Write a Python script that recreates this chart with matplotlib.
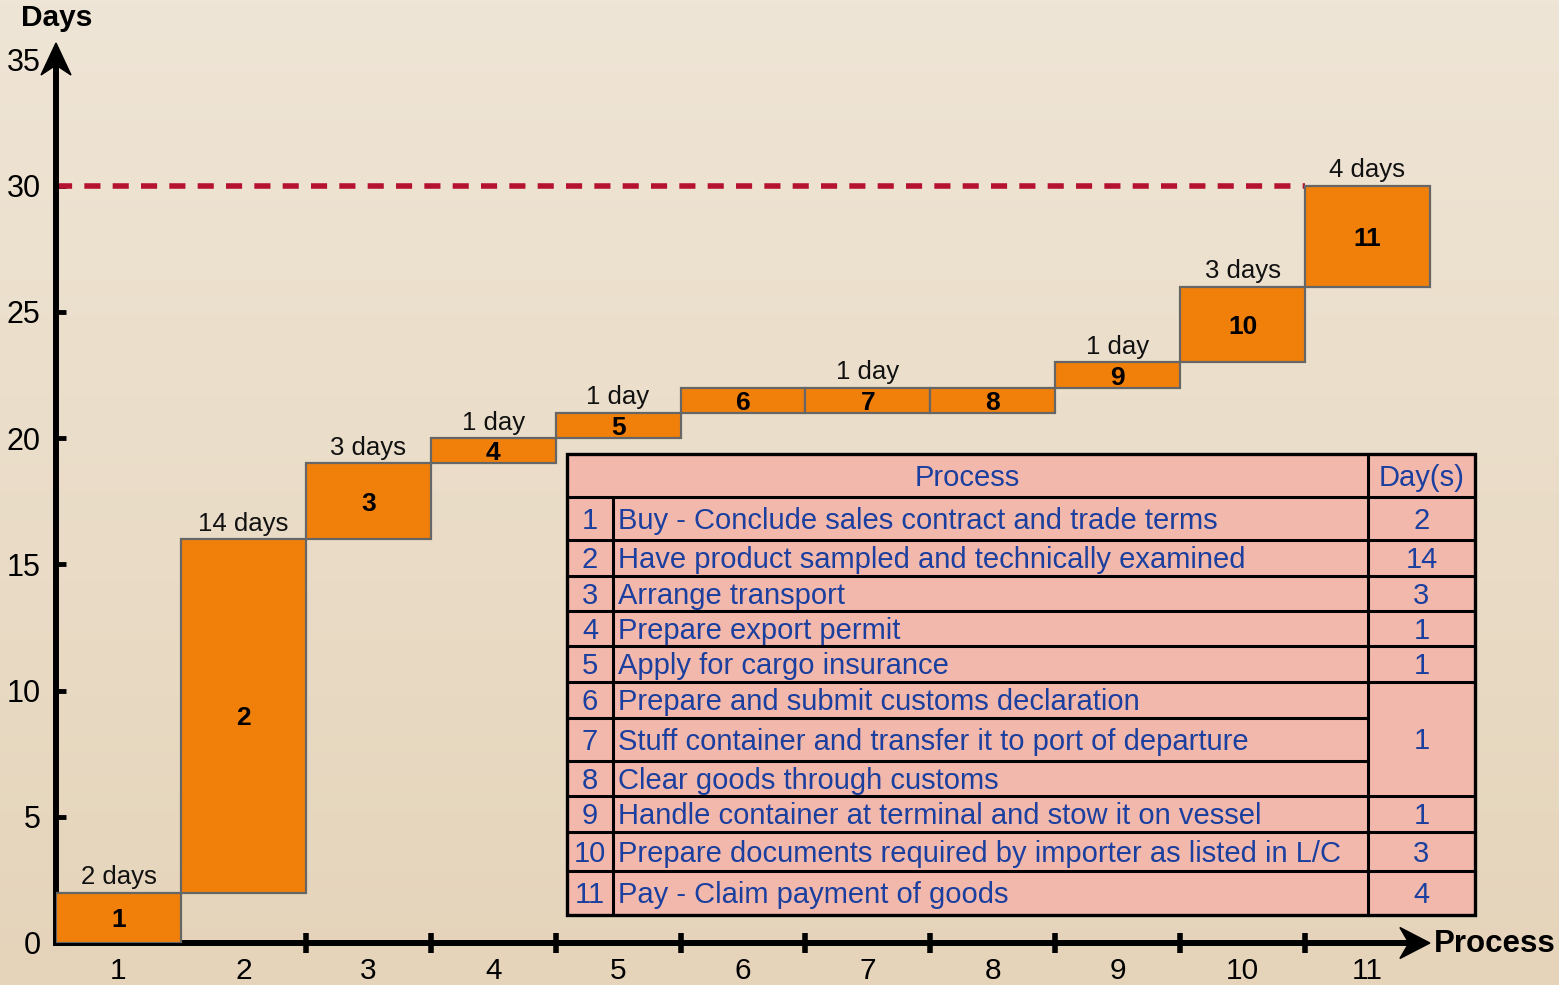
import numpy as np
import matplotlib.pyplot as plt
from matplotlib.colors import LinearSegmentedColormap
from matplotlib.patches import Polygon, Rectangle

plt.rcParams['font.family'] = ['Liberation Sans', 'DejaVu Sans']

# data: steps 6, 7 and 8 run side by side inside one day
steps = list(range(1, 12))
groups = [[1], [2], [3], [4], [5], [6, 7, 8], [9], [10], [11]]
group_days = [2, 14, 3, 1, 1, 1, 1, 3, 4]
target_days = 30
y_ticks = [0, 5, 10, 15, 20, 25, 30, 35]
process_names = [
    "Buy - Conclude sales contract and trade terms",
    "Have product sampled and technically examined",
    "Arrange transport",
    "Prepare export permit",
    "Apply for cargo insurance",
    "Prepare and submit customs declaration",
    "Stuff container and transfer it to port of departure",
    "Clear goods through customs",
    "Handle container at terminal and stow it on vessel",
    "Prepare documents required by importer as listed in L/C",
    "Pay - Claim payment of goods",
]

# bar bottoms / heights per step
group_start = np.concatenate([[0], np.cumsum(group_days)[:-1]])
bar_bottom, bar_height = [], []
for g, start, d in zip(groups, group_start, group_days):
    for s in g:
        bar_bottom.append(start)
        bar_height.append(d)

W, H = 1559, 985
X0, SX = 56, 124.9     # pixel of x=0, pixels per step
Y0, SY = 943, 25.25    # pixel of y=0, pixels per day

orange = '#F0800A'
blue = '#1A3F9E'
pink = '#F3B8AC'

fig = plt.figure(figsize=(W / 100, H / 100), dpi=100)

# background gradient
bg = fig.add_axes([0, 0, 1, 1], zorder=0)
cmap = LinearSegmentedColormap.from_list('bg', ['#EFE5D6', '#E5D4BA'])
bg.imshow(np.linspace(0, 1, 256)[:, None], aspect='auto', cmap=cmap, extent=[0, 1, 0, 1])
bg.axis('off')

ax = fig.add_axes([X0 / W, (H - Y0) / H, (1500 - X0) / W, (Y0 - 40) / H], zorder=1)
ax.patch.set_alpha(0)
ax.set_xlim(0, (1500 - X0) / SX)
ax.set_ylim(0, (Y0 - 40) / SY)

x = np.array(steps) - 0.5
ax.bar(x, bar_height, bottom=bar_bottom, width=1, color=orange,
       edgecolor='#666666', linewidth=1.6, zorder=3)

for xi, b, h, s in zip(x, bar_bottom, bar_height, steps):
    ax.annotate(str(s), (xi, b + h / 2), xytext=(0, -7), textcoords='offset points',
                ha='center', va='baseline', fontsize=19, weight='bold', zorder=4)

for g, start, d in zip(groups, group_start, group_days):
    mid = g[len(g) // 2] - 0.5
    label = f"{d} day" if d == 1 else f"{d} days"
    ax.annotate(label, (mid, start + d), xytext=(0, 6), textcoords='offset points',
                ha='center', va='baseline', fontsize=18.5, color='#111111')

# target line
ax.plot([0, groups[-1][0] - 1], [target_days, target_days], color='#B5122F', lw=4,
        ls=(0, (2.9, 2.2)), zorder=2)

# axes
for side in ['top', 'right']:
    ax.spines[side].set_visible(False)
ax.spines['left'].set_linewidth(4.3)
ax.spines['bottom'].set_linewidth(4.3)
ax.spines['left'].set_bounds(0, 35.2)
ax.spines['bottom'].set_bounds(0, 10.85)

ax.set_xticks(range(2, 11))
ax.set_xticklabels([])
ax.set_xticks(x, minor=True)
ax.set_xticklabels([str(s) for s in steps], minor=True)
ax.tick_params(axis='x', which='major', direction='inout', length=14, width=4)
ax.tick_params(axis='x', which='minor', length=0, pad=10, labelsize=21.5)
ax.set_yticks(y_ticks)
ax.tick_params(axis='y', direction='in', length=7, width=3.5, pad=11, labelsize=22)
ax.yaxis.get_major_ticks()[-1].tick1line.set_visible(False)

# overlay in pixel coordinates: arrowheads, axis titles, table
ov = fig.add_axes([0, 0, 1, 1], zorder=3)
ov.set_xlim(0, W)
ov.set_ylim(H, 0)
ov.axis('off')
ov.patch.set_alpha(0)

ov.add_patch(Polygon([(X0, 43), (X0 - 15, 75), (X0, 65), (X0 + 15, 75)], closed=True,
                     color='black', zorder=5))
tipx = X0 + 11.0 * SX
ov.add_patch(Polygon([(tipx, Y0), (tipx - 30, Y0 - 15.5), (tipx - 21, Y0), (tipx - 30, Y0 + 15.5)],
                     closed=True, color='black', zorder=5))
ov.text(57, 18, 'Days', ha='center', va='center', fontsize=21.5, weight='bold')
ov.text(1434, 944, 'Process', ha='left', va='center', fontsize=22.5, weight='bold')

# table
tl, tn, td, tr = 567, 613, 1368, 1475
row_edges = [454, 497, 540, 576, 611, 646, 682, 718, 761, 796, 832, 871, 915]
fs = 21
cap = 0.716 * fs * 100 / 72 / 2
ov.add_patch(Rectangle((tl, row_edges[0]), tr - tl, row_edges[-1] - row_edges[0],
                       facecolor=pink, edgecolor='black', lw=2.4, zorder=4))
lk = dict(color='black', lw=2.2, zorder=5, solid_capstyle='butt')
ov.plot([td, td], [row_edges[0], row_edges[-1]], **lk)
ov.plot([tn, tn], [row_edges[1], row_edges[-1]], **lk)
hy = (row_edges[0] + row_edges[1]) / 2
ov.text((tl + td) / 2, hy + cap, 'Process', ha='center', va='baseline', fontsize=fs, color=blue, zorder=6)
ov.text((td + tr) / 2, hy + cap, 'Day(s)', ha='center', va='baseline', fontsize=fs, color=blue, zorder=6)

row = 0
for g, d in zip(groups, group_days):
    for k, s in enumerate(g):
        top, bot = row_edges[row + 1], row_edges[row + 2]
        yc = (top + bot) / 2 + cap
        x_end = tr if k == 0 else td
        ov.plot([tl, x_end], [top, top], **lk)
        ov.text((tl + tn) / 2, yc, str(s), ha='center', va='baseline', fontsize=fs, color=blue, zorder=6)
        ov.text(tn + 5, yc, process_names[s - 1], ha='left', va='baseline', fontsize=fs, color=blue, zorder=6)
        row += 1
    gtop, gbot = row_edges[row + 1 - len(g)], row_edges[row + 1]
    ov.text((td + tr) / 2, (gtop + gbot) / 2 + cap, str(d), ha='center', va='baseline',
            fontsize=fs, color=blue, zorder=6)

fig.savefig('out.png', dpi=100)
